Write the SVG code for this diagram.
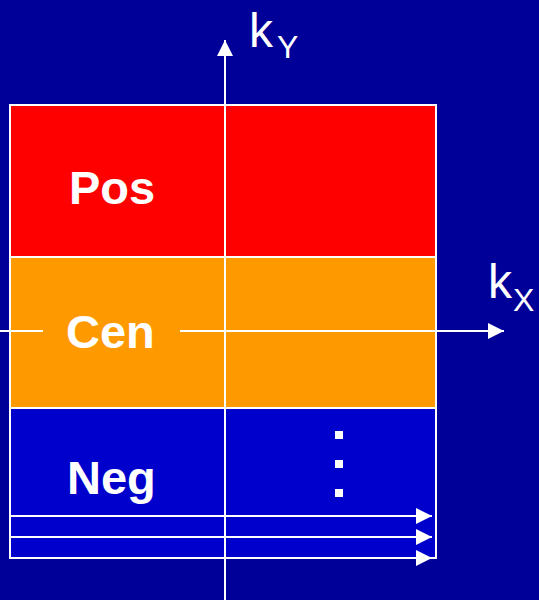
<svg xmlns="http://www.w3.org/2000/svg" width="539" height="600" viewBox="0 0 539 600">
  <style>
    .ln { stroke: #ffffff; stroke-width: 2; fill: none; }
    .lbl { font-family: "Liberation Sans", Arial, sans-serif; font-weight: bold; font-size: 47px; fill: #ffffff; }
    .ax { font-family: "Liberation Sans", Arial, sans-serif; fill: #ffffff; }
  </style>
  <defs>
    <marker id="arr" viewBox="0 0 16 16" refX="16" refY="8" markerWidth="16" markerHeight="16" markerUnits="userSpaceOnUse" orient="auto">
      <path d="M0,0 L16,8 L0,16 Z" fill="#ffffff"/>
    </marker>
  </defs>
  <rect width="539" height="600" fill="#000099"/>

  <g id="pos">
    <rect x="10" y="105" width="426" height="152" fill="#ff0000" stroke="#ffffff" stroke-width="2"/>
    <text class="lbl" x="69" y="204">Pos</text>
  </g>
  <g id="cen">
    <rect x="10" y="257" width="426" height="151" fill="#ff9900" stroke="#ffffff" stroke-width="2"/>
    <text class="lbl" x="66" y="348">Cen</text>
  </g>
  <g id="neg">
    <rect x="10" y="408" width="426" height="150" fill="#0000cc" stroke="#ffffff" stroke-width="2"/>
    <text class="lbl" x="67" y="494">Neg</text>
    <rect x="335" y="431" width="8" height="8" fill="#ffffff"/>
    <rect x="335" y="460" width="8" height="8" fill="#ffffff"/>
    <rect x="335" y="489" width="8" height="8" fill="#ffffff"/>
  </g>

  <g id="connectors">
    <!-- ky axis -->
    <line class="ln" x1="225" y1="600" x2="225" y2="40" marker-end="url(#arr)"/>
    <!-- kx axis, broken around the centre label -->
    <line class="ln" x1="0" y1="331" x2="43" y2="331"/>
    <line class="ln" x1="180" y1="331" x2="504" y2="331" marker-end="url(#arr)"/>
    <!-- readout lines -->
    <line class="ln" x1="10" y1="516" x2="432" y2="516" marker-end="url(#arr)"/>
    <line class="ln" x1="10" y1="537" x2="432" y2="537" marker-end="url(#arr)"/>
    <line class="ln" x1="10" y1="558" x2="432" y2="558" marker-end="url(#arr)"/>
  </g>

  <g id="axis-labels">
    <text class="ax" x="249" y="47" font-size="48">k<tspan font-size="32" dx="4" dy="11">Y</tspan></text>
    <text class="ax" x="488" y="298" font-size="48">k<tspan font-size="32" dx="1" dy="13">X</tspan></text>
  </g>
</svg>
